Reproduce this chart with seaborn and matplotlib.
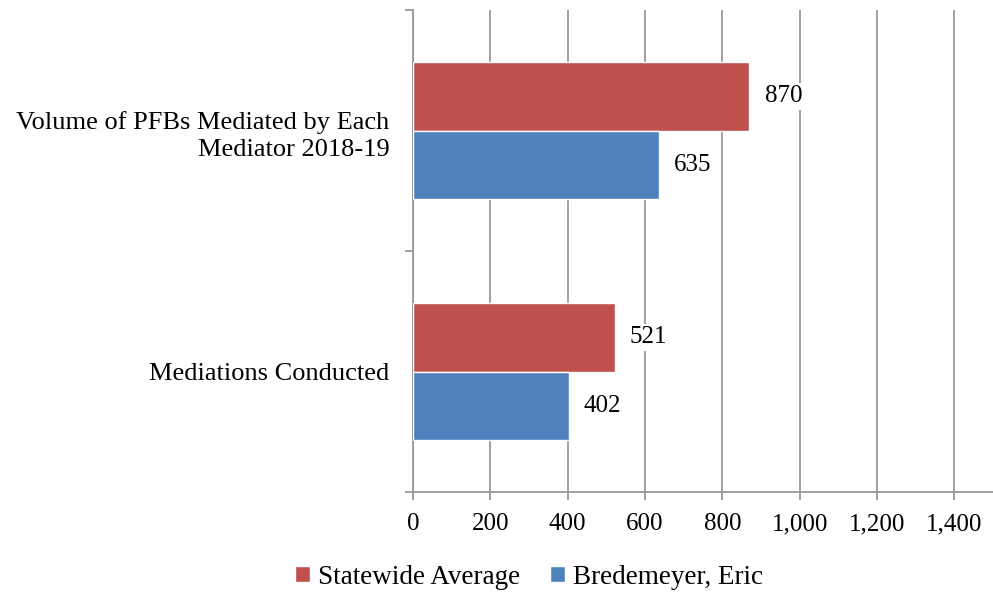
import pandas as pd
import matplotlib.pyplot as plt
import seaborn as sns
from matplotlib.ticker import FuncFormatter, FixedLocator

categories = ["Volume of PFBs Mediated by Each\nMediator 2018-19", "Mediations Conducted"]
series = ["Statewide Average", "Bredemeyer, Eric"]
statewide = [870, 521]
bredemeyer = [635, 402]
xticks = [0, 200, 400, 600, 800, 1000, 1200, 1400]

df = pd.DataFrame({
    "category": categories * 2,
    "series": [series[0]] * 2 + [series[1]] * 2,
    "value": statewide + bredemeyer,
})

sns.set_style("white")
plt.rcParams["font.family"] = ["Liberation Serif", "DejaVu Serif"]
plt.rcParams["text.color"] = "black"
plt.rcParams["xtick.labelcolor"] = "black"
plt.rcParams["ytick.labelcolor"] = "black"

fig = plt.figure(figsize=(9.93, 5.96), dpi=100)
ax = fig.add_axes([0.416, 0.174, 0.584, 0.809])

sns.barplot(
    data=df, y="category", x="value", hue="series",
    hue_order=series, order=categories, orient="h",
    palette=["#C0504D", "#4F81BD"], width=0.57, saturation=1,
    ax=ax, zorder=3,
)

ax.set_xlim(0, 1500)
ax.set_ylim(1.5, -0.5)
ax.set_xticks(xticks)
ax.xaxis.set_major_formatter(FuncFormatter(lambda v, p: f"{int(v):,}"))
ax.grid(axis="x", color="#999999", linewidth=1.3, zorder=0)
ax.set_axisbelow(True)

ax.yaxis.set_minor_locator(FixedLocator([-0.5, 0.5, 1.5]))
ax.tick_params(axis="y", which="major", length=0, labelsize=19, pad=17, labelcolor="black")
ax.tick_params(axis="y", which="minor", length=6, width=1.3, color="#999999", direction="out", left=True)
ax.tick_params(axis="x", length=6, width=1.3, color="#999999", direction="out", bottom=True,
               labelsize=18, pad=9, labelcolor="black")
for lab in ax.get_yticklabels():
    lab.set_horizontalalignment("right")
    lab.set_multialignment("right")
    lab.set_linespacing(1.3)

for s in ["top", "right"]:
    ax.spines[s].set_visible(False)
for s in ["left", "bottom"]:
    ax.spines[s].set_color("#999999")
    ax.spines[s].set_linewidth(1.3)

ax.set_xlabel("")
ax.set_ylabel("")

for cont in ax.containers:
    labels = ax.bar_label(cont, fmt="%d", padding=11, fontsize=18, zorder=4, color="black")
    for t in labels:
        t.set_bbox(dict(facecolor="white", edgecolor="none", pad=2))

leg = ax.legend(
    loc="center", bbox_to_anchor=(0.2, -0.176),
    ncol=2, frameon=False, fontsize=19.5, handlelength=0.55, handleheight=0.55,
    handletextpad=0.3, columnspacing=1.1,
)
for t in leg.get_texts():
    t.set_color("black")

plt.savefig("out.png", dpi=100)
